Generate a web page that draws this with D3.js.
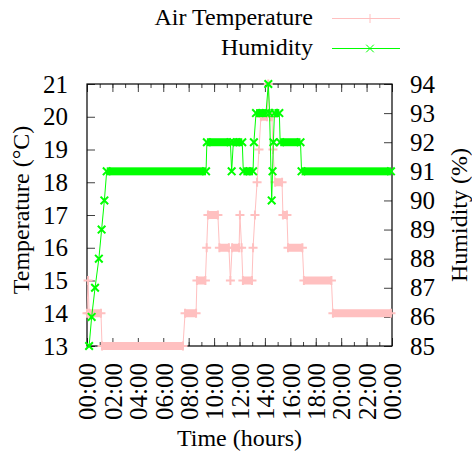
<!DOCTYPE html>
<html>
<head>
<meta charset="utf-8">
<script src="https://cdn.jsdelivr.net/npm/d3@7"></script>
<style>
body { margin: 0; background: #fff; }
text { font-family: "Liberation Serif", "Times New Roman", serif; fill: #000; }
.axis path { display: none; }
.axis line { stroke: #404040; }
</style>
</head>
<body>
<div id="chart"></div>
<script>
// readings (time of day, value)
var tempTimes = ["00:00","00:05","00:10","01:06","01:11","07:33","07:43","08:35","08:39","09:19",
    "09:25","09:31","10:18","10:25","11:10","11:17","11:25","11:58","12:02","12:10",
    "12:16","12:59","13:04","13:13","13:23","13:32","13:41","14:10","14:16","14:24",
    "14:33","14:38","14:48","15:21","15:25","15:44","15:49","16:57","17:04","19:14",
    "19:21","23:55"];
var tempValues = [14,15,14,14,13,13,14,14,15,15,
    16,17,17,16,16,15,16,16,17,16,
    15,15,16,17,18,19,20,20,21,20,
    20,19,18,18,17,17,16,16,15,15,
    14,14];

var humTimes = ["00:10","00:22","00:38","00:56","01:09","01:22","01:33","09:22","09:26","11:17",
    "11:23","11:31","12:13","12:18","13:04","13:08","13:18","14:05","14:16","14:22",
    "14:32","14:36","14:40","14:45","15:08","15:12","16:48","16:53","23:55"];
var humValues = [85,86,87,88,89,90,91,91,92,92,
    91,92,92,91,91,92,93,93,94,93,
    90,91,92,93,93,92,92,91,91];

var tempTicks = [13,14,15,16,17,18,19,20,21];
var humTicks = [85,86,87,88,89,90,91,92,93,94];
var seriesNames = ["Air Temperature", "Humidity"];

var W = 472, H = 457;
var margin = {t:84, r:80, b:111, l:87};
var width = W - margin.l - margin.r,
    height = H - margin.t - margin.b;

var pink = "#ffc0c0", green = "#00ff00";
var band = 8;
var tickFont = 25, labelFont = 24;

var svg = d3.select("#chart").append("svg")
    .attr("width", W)
    .attr("height", H);

var plot = svg.append("g")
    .attr("transform", "translate(" + margin.l + "," + margin.t + ")");

var parseTime = d3.timeParse("%H:%M");
var day0 = parseTime("00:00");
var day1 = d3.timeDay.offset(day0, 1);

var scaleX = d3.scaleTime().domain([day0, day1]).range([0, width]);
var scaleT = d3.scaleLinear().domain([13, 21]).range([height, 0]);
var scaleH = d3.scaleLinear().domain([85, 94]).range([height, 0]);

function rows(times, values) {
    return times.map(function(t, i) { return {time: parseTime(t), value: values[i]}; });
}
var temp = rows(tempTimes, tempValues);
var hum = rows(humTimes, humValues);

// axes
var fmt = d3.timeFormat("%H:%M");
var xMinor = d3.axisBottom(scaleX).ticks(d3.timeHour.every(1)).tickSize(-4).tickFormat("");
var xMinorTop = d3.axisTop(scaleX).ticks(d3.timeHour.every(1)).tickSize(-4).tickFormat("");
plot.append("g").attr("class", "axis").attr("transform", "translate(0," + height + ")").call(xMinor);
plot.append("g").attr("class", "axis").call(xMinorTop);

var xAxis = plot.append("g")
    .attr("class", "axis")
    .attr("transform", "translate(0," + height + ")")
    .call(d3.axisBottom(scaleX).ticks(d3.timeHour.every(2)).tickSize(-8).tickFormat(fmt));
xAxis.selectAll("text")
    .attr("font-size", tickFont)
    .attr("transform", "rotate(-90)")
    .attr("text-anchor", "end")
    .attr("x", -17)
    .attr("y", 0)
    .attr("dy", "0.35em");
plot.append("g").attr("class", "axis")
    .call(d3.axisTop(scaleX).ticks(d3.timeHour.every(2)).tickSize(-8).tickFormat(""));

plot.append("g").attr("class", "axis")
    .call(d3.axisLeft(scaleT).tickValues(tempTicks).tickSize(-8).tickPadding(19))
    .selectAll("text").attr("font-size", tickFont);

plot.append("g").attr("class", "axis")
    .attr("transform", "translate(" + width + ",0)")
    .call(d3.axisRight(scaleH).tickValues(humTicks).tickSize(-8).tickPadding(18))
    .selectAll("text").attr("font-size", tickFont);

plot.append("rect")
    .attr("width", width)
    .attr("height", height)
    .attr("fill", "none")
    .attr("stroke", "#000")
    .attr("stroke-width", 1.2);

// titles
svg.append("text")
    .attr("x", margin.l + width / 2)
    .attr("y", 446)
    .attr("text-anchor", "middle")
    .attr("font-size", labelFont)
    .text("Time (hours)");
svg.append("text")
    .attr("transform", "translate(29," + (margin.t + height / 2 - 5) + ") rotate(-90)")
    .attr("text-anchor", "middle")
    .attr("font-size", labelFont)
    .text("Temperature (°C)");
svg.append("text")
    .attr("transform", "translate(467," + (margin.t + height / 2) + ") rotate(-90)")
    .attr("text-anchor", "middle")
    .attr("font-size", labelFont)
    .text("Humidity (%)");

// series
function plusPath(s) {
    return "M" + (-s) + ",0H" + s + "M0," + (-s) + "V" + s;
}
function crossPath(s) {
    return "M" + (-s) + "," + (-s) + "L" + s + "," + s + "M" + (-s) + "," + s + "L" + s + "," + (-s);
}

function drawSeries(data, scaleY, color, marker, markerSize) {
    var g = plot.append("g");
    // runs of equal readings: dense markers merge into a band
    var runs = d3.pairs(data).filter(function(p) { return p[0].value === p[1].value; });
    g.selectAll(".band")
        .data(runs)
        .enter()
        .append("rect")
        .attr("x", function(p) { return scaleX(p[0].time); })
        .attr("width", function(p) { return scaleX(p[1].time) - scaleX(p[0].time); })
        .attr("y", function(p) { return scaleY(p[0].value) - band / 2; })
        .attr("height", band)
        .attr("fill", color);

    var line = d3.line()
        .x(function(d) { return scaleX(d.time); })
        .y(function(d) { return scaleY(d.value); });
    g.append("path")
        .datum(data)
        .attr("d", line)
        .attr("fill", "none")
        .attr("stroke", color)
        .attr("stroke-width", 1);

    g.selectAll(".pt")
        .data(data)
        .enter()
        .append("path")
        .attr("transform", function(d) { return "translate(" + scaleX(d.time) + "," + scaleY(d.value) + ")"; })
        .attr("d", marker(markerSize))
        .attr("fill", "none")
        .attr("stroke", color)
        .attr("stroke-width", 2);
}

drawSeries(temp, scaleT, pink, plusPath, 4.5);
drawSeries(hum, scaleH, green, crossPath, 3.8);

// legend
var legend = svg.append("g");
var legendItems = [
    {name: seriesNames[0], color: pink, marker: plusPath(4.5)},
    {name: seriesNames[1], color: green, marker: crossPath(3.8)}
];
legendItems.forEach(function(d, i) {
    var y = 18.5 + i * 30;
    legend.append("text")
        .attr("x", 313)
        .attr("y", y - 2)
        .attr("dy", "0.35em")
        .attr("text-anchor", "end")
        .attr("font-size", labelFont)
        .text(d.name);
    legend.append("line")
        .attr("x1", 332).attr("x2", 400)
        .attr("y1", y).attr("y2", y)
        .attr("stroke", d.color);
    legend.append("path")
        .attr("transform", "translate(370," + y + ")")
        .attr("d", d.marker)
        .attr("fill", "none")
        .attr("stroke", d.color);
});
</script>
</body>
</html>
